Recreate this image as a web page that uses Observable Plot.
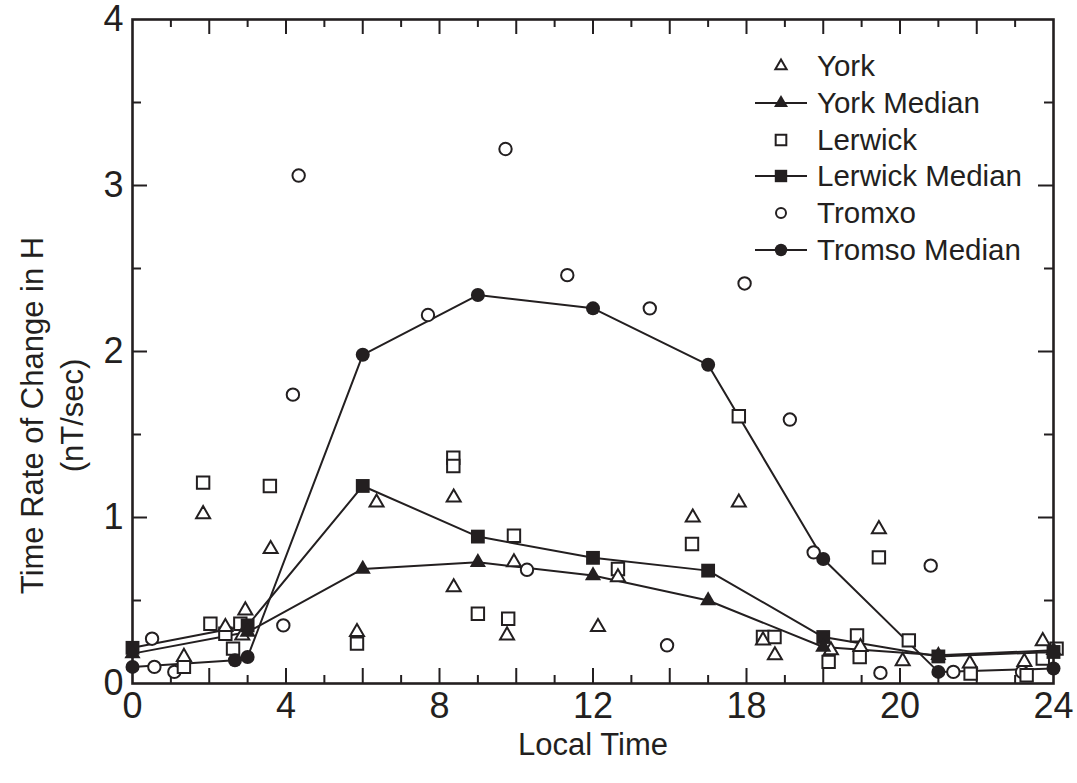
<!DOCTYPE html>
<html><head><meta charset="utf-8">
<script src="https://cdn.jsdelivr.net/npm/d3@7"></script>
<script src="https://cdn.jsdelivr.net/npm/@observablehq/plot@0.6"></script>
<style>
body{margin:0;background:#fff;}
#wrap{position:relative;width:1077px;height:783px;}
#legend{position:absolute;left:755px;top:48px;font-family:'Liberation Sans',Arial,sans-serif;font-size:29.5px;color:#231f20;}
.row{display:flex;align-items:center;height:36.7px;}
.row svg{flex:none;}
.row span{margin-left:10px;white-space:nowrap;}
</style></head><body><div id="wrap"><div id="legend"></div></div>
<script>
// ---- data ----
const yorkTime = [1.34,1.84,2.42,2.86,2.94,3.6,5.85,6.36,8.37,8.37,9.76,9.94,12.13,12.65,14.6,15.8,16.43,16.74,18.2,18.97,19.45,20.07,21.82,23.24,23.72];
const yorkRate = [0.16,1.02,0.34,0.29,0.44,0.81,0.31,1.09,1.12,0.58,0.29,0.73,0.34,0.64,1.0,1.09,0.26,0.17,0.2,0.22,0.93,0.135,0.12,0.13,0.255];
const lerwickTime = [1.34,1.84,2.03,2.42,2.62,2.81,3.58,5.85,8.36,8.36,9.0,9.79,9.94,12.65,14.58,15.8,16.43,16.73,18.14,18.88,18.95,19.45,20.23,21.84,23.3,23.72,24.08];
const lerwickRate = [0.10,1.21,0.36,0.30,0.21,0.36,1.19,0.24,1.36,1.31,0.42,0.39,0.89,0.69,0.84,1.61,0.28,0.28,0.13,0.29,0.16,0.76,0.26,0.06,0.05,0.15,0.21];
const tromsoTime = [0.51,0.57,1.09,3.93,4.18,4.33,7.70,9.72,10.28,11.33,13.48,13.93,15.95,17.13,17.75,19.49,20.8,21.39,23.18];
const tromsoRate = [0.27,0.10,0.07,0.35,1.74,3.06,2.22,3.22,0.685,2.46,2.26,0.23,2.41,1.59,0.79,0.064,0.71,0.07,0.07];
const medianTime = [0,3,6,9,12,15,18,21,24];
const yorkMedian = [0.18,0.31,0.69,0.73,0.65,0.50,0.22,0.17,0.20];
const lerwickMedian = [0.215,0.35,1.19,0.885,0.757,0.68,0.28,0.163,0.19];
const tromsoMedianTime = [0,2.67,3,6,9,12,15,18,21,24];
const tromsoMedian = [0.10,0.14,0.16,1.98,2.34,2.26,1.92,0.75,0.07,0.09];
const xTickValues = [0,4,8,12,16,20,24];
const xTickLabels = ["0","4","8","12","18","20","24"];
const yTickValues = [0,1,2,3,4];
const legendLabels = ["York","York Median","Lerwick","Lerwick Median","Tromxo","Tromso Median"];
const xLabel = "Local Time";
const yLabel = "Time Rate of Change in H\n(nT/sec)";

// ---- build ----
const ink = "#231f20";
const W = 1077, H = 783, mL = 132, mR = 24, mT = 19, mB = 100;
const innerW = W - mL - mR, innerH = H - mT - mB;
const pts = (t, v, s) => t.map((x, i) => ({t: x, v: v[i], s}));
const york = pts(yorkTime, yorkRate, "York");
const lerwick = pts(lerwickTime, lerwickRate, "Lerwick");
const tromso = pts(tromsoTime, tromsoRate, "Tromso");
const yorkMed = pts(medianTime, yorkMedian, "York Median");
const lerMed = pts(medianTime, lerwickMedian, "Lerwick Median");
const troMed = pts(tromsoMedianTime, tromsoMedian, "Tromso Median");
const xMinor = d3.range(1, 24, 2), xMajor = d3.range(2, 24, 2);
const yMinor = [0.5,1.5,2.5,3.5], yMajor = [1,2,3];
const tk = {stroke: ink, strokeWidth: 2};
const font = "'Liberation Sans',Arial,Helvetica,sans-serif";

const chart = Plot.plot({
  width: W, height: H, marginLeft: mL, marginRight: mR, marginTop: mT, marginBottom: mB,
  style: {fontFamily: font, color: ink, background: "#fff", overflow: "visible"},
  x: {domain: [0, 24], label: null},
  y: {domain: [0, 4], label: null},
  marks: [
    Plot.ruleX(xMinor, {...tk, insetTop: innerH - 8}),
    Plot.ruleX(xMajor, {...tk, insetTop: innerH - 15}),
    Plot.ruleX(xMinor, {...tk, insetBottom: innerH - 8}),
    Plot.ruleX(xMajor, {...tk, insetBottom: innerH - 15}),
    Plot.ruleY(yMinor, {...tk, insetRight: innerW - 9}),
    Plot.ruleY(yMajor, {...tk, insetRight: innerW - 15}),
    Plot.ruleY(yMinor, {...tk, insetLeft: innerW - 9}),
    Plot.ruleY(yMajor, {...tk, insetLeft: innerW - 15}),
    Plot.frame({stroke: ink, strokeWidth: 2.6}),
    Plot.axisX({ticks: xTickValues, tickFormat: d => xTickLabels[xTickValues.indexOf(d)], tickSize: 0, tickPadding: 9, fontSize: 36, label: null}),
    Plot.axisY({ticks: yTickValues, tickFormat: d => String(d), tickSize: 0, tickPadding: 9, fontSize: 36, label: null}),
    Plot.text([xLabel], {text: d => d, frameAnchor: "bottom", lineAnchor: "middle", textAnchor: "middle", dy: 62, fontSize: 31, fill: ink}),
    Plot.text([yLabel], {text: d => d, frameAnchor: "left", lineAnchor: "middle", textAnchor: "middle", dx: -82, dy: 64, rotate: -90, fontSize: 31, lineHeight: 1.29, fill: ink}),
    Plot.line([...yorkMed, ...lerMed, ...troMed], {x: "t", y: "v", z: "s", stroke: ink, strokeWidth: 2}),
    Plot.dot(tromso, {x: "t", y: "v", symbol: "circle", r: 6.2, fill: "#fff", stroke: ink, strokeWidth: 2}),
    Plot.dot(lerwick, {x: "t", y: "v", symbol: "square", r: 7, fill: "#fff", stroke: ink, strokeWidth: 2}),
    Plot.dot(york, {x: "t", y: "v", symbol: "triangle", r: 5.2, fill: "#fff", stroke: ink, strokeWidth: 2}),
    Plot.dot(troMed, {x: "t", y: "v", symbol: "circle", r: 7, fill: ink, stroke: "none"}),
    Plot.dot(lerMed, {x: "t", y: "v", symbol: "square", r: 7.8, fill: ink, stroke: "none"}),
    Plot.dot(yorkMed, {x: "t", y: "v", symbol: "triangle", r: 6, fill: ink, stroke: "none"})
  ]
});
document.getElementById("wrap").prepend(chart);

// ---- legend ----
const legendSym = [
  {sym: d3.symbolTriangle, r: 4.2, filled: false, line: false},
  {sym: d3.symbolTriangle, r: 5.2, filled: true, line: true},
  {sym: d3.symbolSquare, r: 6, filled: false, line: false},
  {sym: d3.symbolSquare, r: 7, filled: true, line: true},
  {sym: d3.symbolCircle, r: 5, filled: false, line: false},
  {sym: d3.symbolCircle, r: 6.2, filled: true, line: true}
];
const leg = d3.select("#legend");
legendLabels.forEach((lab, i) => {
  const s = legendSym[i];
  const row = leg.append("div").attr("class", "row");
  const svg = row.append("svg").attr("width", 52).attr("height", 30);
  if (s.line) svg.append("line").attr("x1", 0).attr("x2", 52).attr("y1", 15).attr("y2", 15).attr("stroke", ink).attr("stroke-width", 2);
  svg.append("path").attr("transform", "translate(26,15)")
    .attr("d", d3.symbol(s.sym, Math.PI * s.r * s.r)())
    .attr("fill", s.filled ? ink : "#fff").attr("stroke", s.filled ? "none" : ink).attr("stroke-width", 2);
  row.append("span").text(lab);
});
</script>
</body></html>
